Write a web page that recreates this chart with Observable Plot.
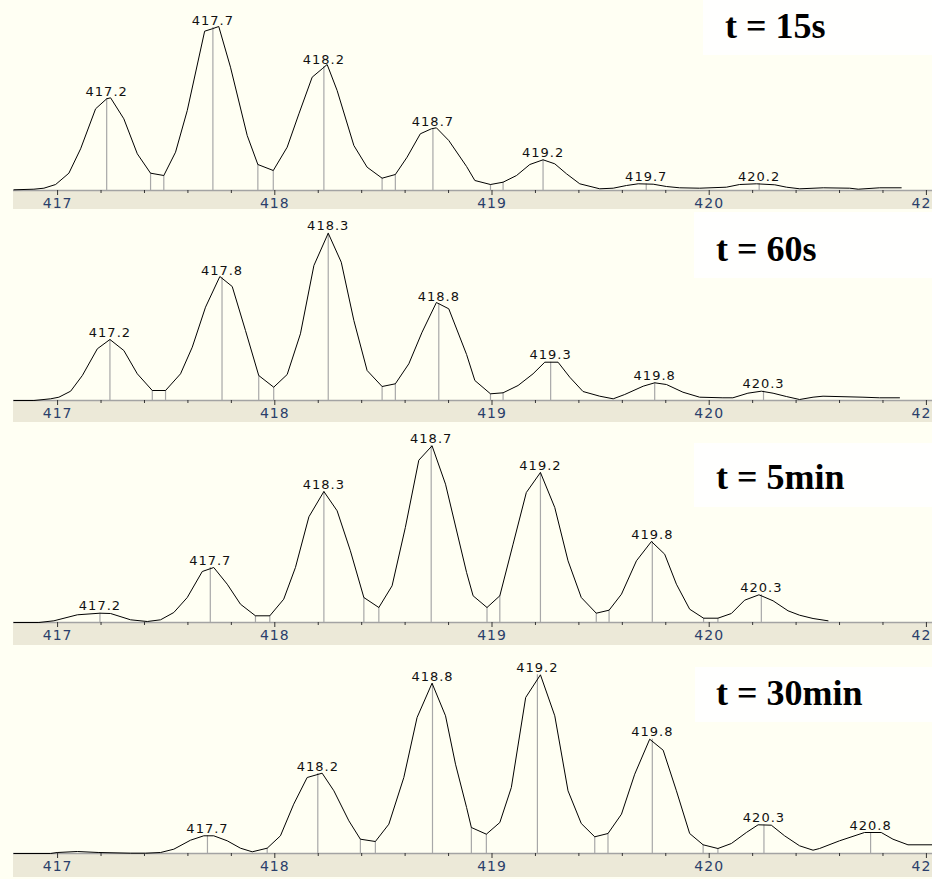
<!DOCTYPE html>
<html>
<head>
<meta charset="utf-8">
<script src="https://cdn.jsdelivr.net/npm/d3@7"></script>
<script src="https://cdn.jsdelivr.net/npm/@observablehq/plot@0.6"></script>
<style>
  html, body { margin: 0; padding: 0; background: #fffff3; }
  #chart { position: relative; width: 932px; height: 879px; overflow: hidden; background: #fffff3; }
  .panel { position: absolute; left: 0; width: 932px; }
  .band { position: absolute; left: 13px; width: 919px; background: #ece9d8; }
  .box { position: absolute; background: #fffffe; }
  .title { position: absolute; font-family: "Liberation Serif", "Times New Roman", serif; font-weight: bold;
           font-size: 36px; line-height: 36px; color: #000; white-space: nowrap; }
  .panel svg { position: absolute; left: 0; top: 0; }
  g[aria-label="x-axis tick label"] text { letter-spacing: 1px; }
  g[aria-label="text"] text { letter-spacing: 1px; }
</style>
</head>
<body>
<div id="chart"></div>
<script>
// ---------- data (m/z, relative intensity) ----------
const titles = ["t = 15s", "t = 60s", "t = 5min", "t = 30min"];

const majorTicks = [417, 418, 419, 420, 421];
const minorTicks = [417.2, 417.4, 417.6, 417.8, 418.2, 418.4, 418.6, 418.8,
                    419.2, 419.4, 419.6, 419.8, 420.2, 420.4, 420.6, 420.8];

const profile15s = [[416.799,0.7],[416.891,1.3],[416.937,2.3],[416.991,6],[417.052,17.3],[417.106,41.7],[417.175,81.7],[417.226,91.7],[417.244,92.7],[417.305,71.7],[417.367,36.7],[417.428,17.3],[417.489,15],[417.543,38.3],[417.597,80],[417.677,159.3],[417.712,161.7],[417.742,164],[417.796,123.3],[417.873,55],[417.922,26],[417.993,20],[418.057,43.3],[418.111,76.7],[418.172,113.3],[418.218,121.7],[418.241,126],[418.287,100],[418.364,45],[418.425,23.3],[418.494,12.3],[418.555,16],[418.609,33.3],[418.670,56.7],[418.721,61.7],[418.744,62.7],[418.801,50],[418.883,24],[418.921,10],[418.993,6],[419.051,8.3],[419.113,15],[419.174,26],[419.235,30.7],[419.289,26.7],[419.343,16.7],[419.404,6.7],[419.496,1.7],[419.558,2.3],[419.619,5],[419.673,6.7],[419.742,6.3],[419.803,4],[419.864,2.7],[419.956,2.3],[420.079,3.3],[420.140,6],[420.217,6.7],[420.302,5.7],[420.356,3.3],[420.417,1.7],[420.525,2.7],[420.647,2.3],[420.686,1.3],[420.785,2.7],[420.884,2.7]];
const peakMz15s = [417.226, 417.715, 418.226, 418.728, 419.235, 419.71, 420.23];
const peakInt15s = [92, 163, 124, 62, 30.7, 6.5, 6.7];
const peakLabel15s = ["417.2", "417.7", "418.2", "418.7", "419.2", "419.7", "420.2"];
const edgeMz15s = [417.428, 417.489, 417.922, 417.993, 418.494, 418.555, 418.993, 419.051];
const edgeInt15s = [17.3, 15, 26, 20, 12.3, 16, 6, 8.3];

const profile60s = [[416.799,0],[416.891,0],[416.968,1.7],[417.006,3.3],[417.060,9.3],[417.114,25],[417.183,51.7],[417.241,61],[417.305,50],[417.367,26.7],[417.436,10],[417.497,10],[417.566,26.7],[417.620,53.3],[417.681,93.3],[417.747,124],[417.804,114],[417.865,70],[417.926,25],[417.995,13.3],[418.057,26],[418.118,66.7],[418.180,135],[418.246,167.3],[418.306,138.3],[418.364,80],[418.425,30],[418.494,14],[418.555,16.7],[418.617,36.7],[418.678,68.3],[418.744,98],[418.801,91.7],[418.883,46],[418.921,20],[418.993,6.7],[419.051,7.7],[419.120,15],[419.189,26.7],[419.243,38.3],[419.304,38.3],[419.358,23.3],[419.419,9],[419.496,4.3],[419.558,1.7],[419.611,6],[419.696,14.3],[419.749,17.7],[419.803,16],[419.879,8.3],[419.956,3.3],[420.063,2.7],[420.109,2.7],[420.178,7.3],[420.240,9.3],[420.294,7.3],[420.355,4],[420.416,1],[420.478,3.3],[420.524,4.3],[420.708,3.3],[420.784,2.7],[420.876,2.7]];
const peakMz60s = [417.241, 417.757, 418.246, 418.755, 419.27, 419.749, 420.25];
const peakInt60s = [61, 123, 167.3, 97, 38.3, 17.7, 9.3];
const peakLabel60s = ["417.2", "417.8", "418.3", "418.8", "419.3", "419.8", "420.3"];
const edgeMz60s = [417.436, 417.497, 417.926, 417.995, 418.494, 418.555, 418.993, 419.051];
const edgeInt60s = [10, 10, 25, 13.3, 14, 16.7, 6.7, 7.7];

const profile5min = [[416.799,0],[416.914,0],[416.983,1.7],[417.091,7.7],[417.195,9.3],[417.244,9],[417.336,2.7],[417.413,1],[417.474,2.7],[417.535,10],[417.597,25],[417.666,51],[417.719,55],[417.781,38.3],[417.842,18.3],[417.911,6.7],[417.977,6.7],[418.041,23.3],[418.095,55],[418.157,105.7],[418.226,131],[418.287,111.7],[418.348,71.7],[418.410,25],[418.479,15],[418.540,36.7],[418.601,95],[418.663,162.3],[418.724,176.7],[418.786,138.3],[418.883,50],[418.913,26.7],[418.977,15],[419.036,26.7],[419.097,78.3],[419.158,130],[419.223,150],[419.289,115],[419.350,61.7],[419.411,25],[419.480,9.3],[419.539,12.3],[419.596,28.3],[419.665,61.7],[419.734,81],[419.795,68.3],[419.849,38.3],[419.910,13.3],[419.974,4.3],[420.040,4.3],[420.102,9],[420.163,22.3],[420.229,27.7],[420.294,21.7],[420.363,11.7],[420.416,7.3],[420.478,4],[420.547,1.7]];
const peakMz5min = [417.195, 417.703, 418.226, 418.72, 419.223, 419.738, 420.24];
const peakInt5min = [9.3, 55, 131, 177, 150, 81, 27.7];
const peakLabel5min = ["417.2", "417.7", "418.3", "418.7", "419.2", "419.8", "420.3"];
const edgeMz5min = [417.911, 417.977, 418.410, 418.479, 418.977, 419.036, 419.480, 419.539, 419.974, 420.040];
const edgeInt5min = [6.7, 6.7, 25, 15, 15, 26.7, 9.3, 12.3, 4.3, 4.3];

const profile30min = [[416.799,0],[416.968,0],[416.998,1],[417.091,2],[417.190,1],[417.336,0.3],[417.405,0.3],[417.474,1],[417.535,4.3],[417.612,13.3],[417.673,17.7],[417.719,17.7],[417.781,12.7],[417.842,5.3],[417.896,1.7],[417.965,5.3],[418.026,17.7],[418.087,49.3],[418.149,76],[418.218,80.3],[418.272,62.7],[418.341,32.7],[418.394,14.3],[418.463,12],[418.525,29.3],[418.594,76],[418.655,136],[418.724,170.3],[418.786,137.7],[418.832,89.3],[418.883,46],[418.905,26],[418.974,19.3],[419.036,31],[419.089,66],[419.155,156],[419.223,178.7],[419.289,137.7],[419.350,62.7],[419.411,30],[419.473,16.7],[419.534,20],[419.596,39.3],[419.657,79.3],[419.726,114.3],[419.788,103.3],[419.849,62.7],[419.910,20],[419.972,8.7],[420.040,5],[420.102,10],[420.171,21],[420.225,28.7],[420.286,28.3],[420.347,17.7],[420.416,7.7],[420.478,3.3],[420.508,5],[420.600,12.7],[420.715,21],[420.792,21],[420.846,14.3],[420.915,8.7],[421.028,8.7]];
const peakMz30min = [417.69, 418.198, 418.726, 419.209, 419.738, 420.252, 420.743];
const peakInt30min = [17.7, 80, 170, 178.7, 114.3, 28.5, 21];
const peakLabel30min = ["417.7", "418.2", "418.8", "419.2", "419.8", "420.3", "420.8"];
const edgeMz30min = [417.965, 418.394, 418.463, 418.905, 418.974, 419.473, 419.534, 419.972, 420.040];
const edgeInt30min = [5.3, 14.3, 12, 26, 19.3, 16.7, 20, 8.7, 5];

// ---------- layout ----------
const xDomain = [416.797, 421.028];
const layout = [
  {top: 0,   height: 210, mb: 20, band: 19, box: [703, 0, 229, 55],   tx: 725, tb: 38},
  {top: 210, height: 213, mb: 23, band: 22, box: [694, 2, 238, 66],   tx: 716, tb: 51},
  {top: 423, height: 223, mb: 24, band: 23, box: [694, 20, 238, 64],  tx: 716, tb: 66},
  {top: 646, height: 233, mb: 26, band: 24, box: [695, 21, 237, 55],  tx: 716, tb: 59}
];
const series = [
  [profile15s, peakMz15s, peakInt15s, peakLabel15s, edgeMz15s, edgeInt15s],
  [profile60s, peakMz60s, peakInt60s, peakLabel60s, edgeMz60s, edgeInt60s],
  [profile5min, peakMz5min, peakInt5min, peakLabel5min, edgeMz5min, edgeInt5min],
  [profile30min, peakMz30min, peakInt30min, peakLabel30min, edgeMz30min, edgeInt30min]
];

const chart = document.getElementById("chart");

series.forEach(([profile, pMz, pInt, pLab, eMz, eInt], i) => {
  const L = layout[i];
  const panel = document.createElement("div");
  panel.className = "panel";
  panel.style.top = L.top + "px";
  panel.style.height = L.height + "px";

  const band = document.createElement("div");
  band.className = "band";
  band.style.top = (L.height - L.mb) + "px";
  band.style.height = L.band + "px";
  panel.appendChild(band);

  const box = document.createElement("div");
  box.className = "box";
  box.style.left = L.box[0] + "px";
  box.style.top = L.box[1] + "px";
  box.style.width = L.box[2] + "px";
  box.style.height = L.box[3] + "px";
  panel.appendChild(box);

  const prof = profile.map(([mz, v]) => ({mz, v}));
  const peaks = pMz.map((mz, k) => ({mz, v: pInt[k], label: pLab[k]}));
  const edges = eMz.map((mz, k) => ({mz, v: eInt[k]}));

  const plot = Plot.plot({
    width: 932,
    height: L.height,
    marginLeft: 13, marginRight: 0, marginTop: 0, marginBottom: L.mb,
    style: {background: "transparent", fontFamily: "DejaVu Sans, sans-serif", overflow: "hidden"},
    x: {domain: xDomain, label: null},
    y: {domain: [0, L.height - L.mb], axis: null},
    marks: [
      Plot.ruleY([0], {stroke: "#a3a3a3", strokeWidth: 1.5}),
      Plot.ruleX(edges, {x: "mz", y1: 0, y2: "v", stroke: "#a8a8a8", strokeWidth: 1.2}),
      Plot.ruleX(peaks, {x: "mz", y1: 0, y2: "v", stroke: "#a8a8a8", strokeWidth: 1.2}),
      Plot.line(prof, {x: "mz", y: "v", stroke: "#000", strokeWidth: 1}),
      Plot.text(peaks, {x: "mz", y: "v", text: "label", dy: -3, lineAnchor: "bottom",
                        fontSize: 13, fill: "#111"}),
      Plot.axisX({ticks: minorTicks, tickSize: 3, tickFormat: () => "", stroke: "#333", label: null}),
      Plot.axisX({ticks: majorTicks, tickSize: 5, tickPadding: 3, tickFormat: d => String(d),
                  fontSize: 14, stroke: "#333", fill: "#2b3f6b", label: null})
    ]
  });
  panel.appendChild(plot);

  const t = document.createElement("div");
  t.className = "title";
  t.textContent = titles[i];
  t.style.left = L.tx + "px";
  t.style.top = (L.tb - 30) + "px";
  panel.appendChild(t);

  chart.appendChild(panel);
});
</script>
</body>
</html>
